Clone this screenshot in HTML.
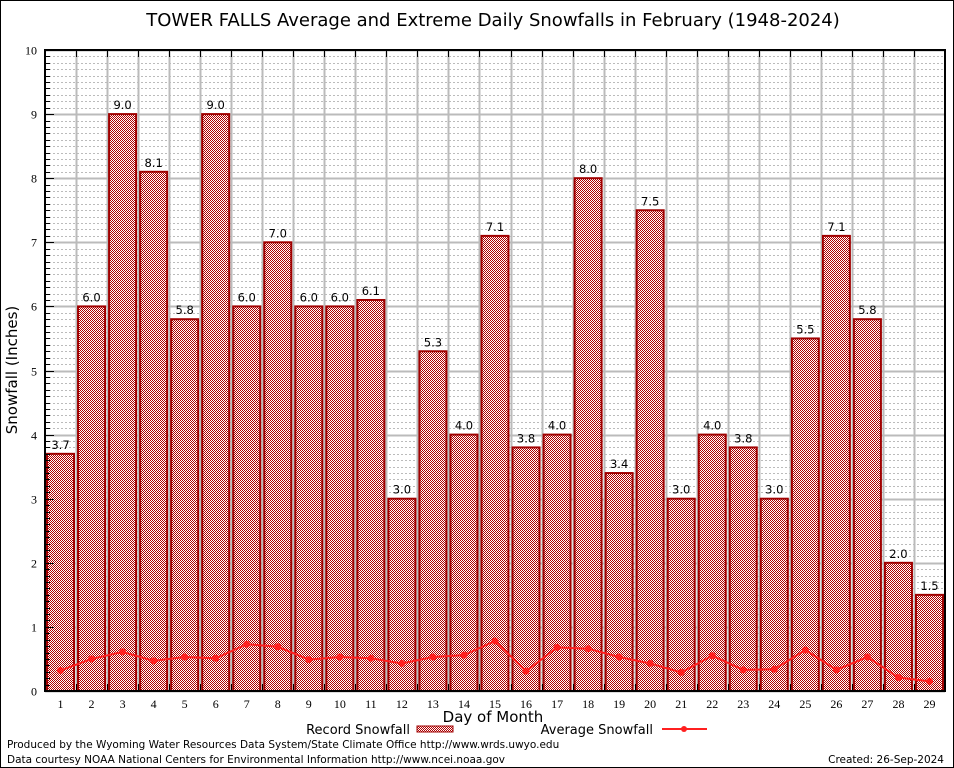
<!DOCTYPE html>
<html><head><meta charset="utf-8"><style>
body{margin:0;background:#fff;}
svg{display:block;font-family:"DejaVu Sans","Liberation Sans",sans-serif;}
</style></head><body>
<svg id="chart" width="954" height="768" viewBox="0 0 954 768">
<defs>
<pattern id="chk" width="2" height="2" patternUnits="userSpaceOnUse">
<rect width="2" height="2" fill="#fff"/><rect width="1" height="1" fill="#b00000"/><rect x="1" y="1" width="1" height="1" fill="#b00000"/>
</pattern>
</defs>
<rect x="0.5" y="0.5" width="953" height="767" fill="#fff" stroke="#000"/>
<text x="493" y="26" font-size="18" text-anchor="middle">TOWER FALLS Average and Extreme Daily Snowfalls in February (1948-2024)</text>
<g id="grid"></g>
<g id="bars"></g>
<g id="avg"></g>
<g id="axes"></g>
<text x="17" y="370" font-size="15" text-anchor="middle" transform="rotate(-90 17 370)">Snowfall (Inches)</text>
<text x="493" y="722" font-size="15" text-anchor="middle">Day of Month</text>
<g>
<text x="410" y="734" font-size="13" text-anchor="end">Record Snowfall</text>
<rect x="417" y="726" width="36" height="6" fill="url(#chk)" stroke="#a00000"/>
<text x="653" y="734" font-size="13" text-anchor="end">Average Snowfall</text>
<line x1="662" y1="729" x2="707" y2="729" stroke="#ff2020" stroke-width="2"/>
<circle cx="684" cy="729" r="3" fill="#ff2020"/>
</g>
<text x="7" y="748" font-size="10.5">Produced by the Wyoming Water Resources Data System/State Climate Office http://www.wrds.uwyo.edu</text>
<text x="7" y="763" font-size="10.5">Data courtesy NOAA National Centers for Environmental Information http://www.ncei.noaa.gov</text>
<text x="944" y="763" font-size="10.5" text-anchor="end">Created: 26-Sep-2024</text>
</svg>
<script>
const days = [1,2,3,4,5,6,7,8,9,10,11,12,13,14,15,16,17,18,19,20,21,22,23,24,25,26,27,28,29];
const records = [3.7,6.0,9.0,8.1,5.8,9.0,6.0,7.0,6.0,6.0,6.1,3.0,5.3,4.0,7.1,3.8,4.0,8.0,3.4,7.5,3.0,4.0,3.8,3.0,5.5,7.1,5.8,2.0,1.5];
const averages = [0.32,0.50,0.61,0.47,0.53,0.51,0.73,0.69,0.49,0.53,0.51,0.43,0.53,0.56,0.78,0.31,0.68,0.66,0.53,0.43,0.29,0.55,0.33,0.34,0.64,0.33,0.53,0.21,0.15];
const yTicks = [0,1,2,3,4,5,6,7,8,9,10];

const L=45,R=945,T=50,B=691,yMax=10;
const n=days.length, step=(R-L)/n;
const xC=i=>L+step*(i+0.5);
const y=v=>B-(v/yMax)*(B-T);
const NS="http://www.w3.org/2000/svg";
function mk(tag,attrs,parent){const e=document.createElementNS(NS,tag);for(const k in attrs)e.setAttribute(k,attrs[k]);parent.appendChild(e);return e;}
const grid=document.getElementById('grid'),bars=document.getElementById('bars'),avg=document.getElementById('avg'),axes=document.getElementById('axes');

for(let k=1;k<yMax*10;k++){
  if(k%10===0)continue;
  const yy=Math.round(y(k/10))+0.5;
  const l=mk('line',{x1:L,x2:R,y1:yy,y2:yy,stroke:'#bbb','stroke-dasharray':'2,2','stroke-width':1},grid);
  
  
  const t1=mk('line',{x1:L,x2:L+5,y1:yy,y2:yy,stroke:'#000'},axes);
  
  
}
yTicks.forEach(v=>{
  const yy=Math.round(y(v))+0.5;
  const l=mk('line',{x1:L,x2:R,y1:yy,y2:yy,stroke:'#bbb','stroke-width':2},grid);
  
  
  const tk=mk('line',{x1:L,x2:L+9,y1:yy,y2:yy,stroke:'#000'},axes);
  
  
  const t=mk('text',{x:L-8,y:yy+4,'font-size':12,'text-anchor':'end','font-family':'Liberation Serif, serif'},axes);
  t.textContent=v;
  
  
});
for(let i=1;i<n;i++){
  const xx=Math.round(L+step*i)+0.5;
  const l=mk('line',{x1:xx,x2:xx,y1:T,y2:B,stroke:'#bbb','stroke-width':2},grid);
  
  
  const t1=mk('line',{x1:xx,x2:xx,y1:T,y2:T+7,stroke:'#000'},axes);
  
  
  const t2=mk('line',{x1:xx,x2:xx,y1:B,y2:B-7,stroke:'#000'},axes);
  
  
}
days.forEach((d,i)=>{
  const cx=xC(i), w=27;
  const r=mk('rect',{x:cx-w/2,y:y(records[i]),width:w,height:B-y(records[i]),fill:'url(#chk)',stroke:'#a00000','stroke-width':2},bars);
  
  
  const t=mk('text',{x:cx,y:y(records[i])-5,'font-size':11.5,'text-anchor':'middle'},bars);
  t.textContent=records[i].toFixed(1);
  
  
  const xl=mk('text',{x:cx,y:B+17,'font-size':12,'text-anchor':'middle','font-family':'Liberation Serif, serif'},axes);
  xl.textContent=d;
  
  
});
const pts=averages.map((v,i)=>xC(i)+','+y(v)).join(' ');
const pl=mk('polyline',{points:pts,fill:'none',stroke:'#ff2020','stroke-width':2},avg);


averages.forEach((v,i)=>{
  const c=mk('circle',{cx:xC(i),cy:y(v),r:3.5,fill:'#ff2020'},avg);
  
  
});
const fr=mk('rect',{x:L,y:T,width:R-L,height:B-T,fill:'none',stroke:'#000','stroke-width':2},axes);


</script>
</body></html>
